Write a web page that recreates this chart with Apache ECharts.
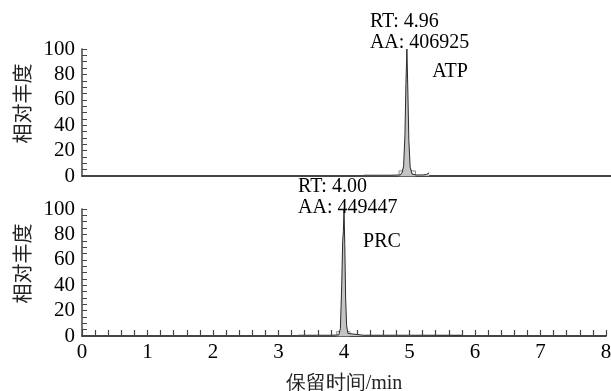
<!DOCTYPE html>
<html><head><meta charset="utf-8">
<script src="https://cdn.jsdelivr.net/npm/echarts@6/dist/echarts.min.js"></script>
<style>html,body{margin:0;padding:0;background:#fff}#c{width:611px;height:391px}</style>
</head><body><div id="c"></div>
<script>
// ATP chromatogram (time in min, relative abundance %)
const atpTime = [4.30, 4.50, 4.70, 4.86, 4.89, 4.91, 4.93, 4.945, 4.96, 4.975, 4.99, 5.01, 5.04, 5.10, 5.20, 5.26, 5.30];
const atpAbund = [0.6, 0.6, 0.6, 0.8, 3, 8, 32, 72, 100, 66, 28, 7, 1.5, 0.8, 0.8, 1.2, 2.5];
// PRC chromatogram
const prcTime = [3.30, 3.60, 3.80, 3.92, 3.945, 3.965, 3.98, 3.99, 4.00, 4.012, 4.025, 4.04, 4.06, 4.09, 4.30, 5.00, 5.80];
const prcAbund = [0.6, 0.6, 0.6, 0.8, 6, 40, 75, 82, 100, 72, 30, 8, 2, 0.8, 0.6, 0.6, 0.6];
const yTicks = [0, 20, 40, 60, 80, 100];
const xTicks = [0, 1, 2, 3, 4, 5, 6, 7, 8];
const atpNote = {rt: '4.96', aa: '406925', name: 'ATP', namePos: [5.62, 82]};
const prcNote = {rt: '4.00', aa: '449447', name: 'PRC', namePos: [4.58, 74]};

const serif = '"Liberation Serif","Times New Roman",serif';
const cjk = '"Noto Sans CJK SC",sans-serif';
const axisColor = '#444';

function yAxis(gi) {
  return {
    gridIndex: gi, type: 'value', min: 0, max: 100, interval: 20,
    name: '相对丰度', nameLocation: 'middle', nameGap: 47,
    nameTextStyle: {fontFamily: cjk, fontSize: 20, color: '#222', padding: [0, 0, 0, 18]},
    axisLine: {show: true, lineStyle: {color: axisColor, width: 1.5}},
    axisTick: {show: true, inside: true, length: 5, lineStyle: {color: axisColor}},
    minorTick: {show: true, splitNumber: 4, length: 5, lineStyle: {color: axisColor}},
    axisLabel: {fontFamily: serif, fontSize: 21, color: '#000', margin: 7,
      formatter: v => yTicks.includes(v) ? String(v) : ''},
    splitLine: {show: false}
  };
}
function series(gi, t, a, note, boxes, labelOffset) {
  return {
    type: 'line', xAxisIndex: gi, yAxisIndex: gi,
    data: t.map((x, i) => [x, a[i]]),
    symbol: 'none', smooth: false,
    lineStyle: {color: '#2a2a2a', width: 1},
    areaStyle: {color: '#c4c4c4', opacity: 1},
    markPoint: {
      symbol: 'circle', symbolSize: 0, silent: true,
      data: [
        {coord: [parseFloat(note.rt), 100],
         label: {show: true, position: labelOffset, align: 'left', verticalAlign: 'top',
           formatter: 'RT: ' + note.rt + '\nAA: ' + note.aa,
           fontFamily: serif, fontSize: 20, lineHeight: 21, color: '#000'}},
        {coord: note.namePos,
         label: {show: true, position: 'inside', formatter: note.name,
           fontFamily: serif, fontSize: 20, color: '#000'}}
      ]
    },
    markArea: {
      silent: true,
      itemStyle: {color: 'rgba(0,0,0,0)', borderColor: '#888', borderWidth: 1},
      data: boxes
    }
  };
}

const chart = echarts.init(document.getElementById('c'));
chart.setOption({
  animation: false,
  grid: [
    {left: 82, top: 49, height: 127, right: 0, outerBoundsMode: 'none', containLabel: false},
    {left: 82, top: 209, height: 127, right: 5, outerBoundsMode: 'none', containLabel: false}
  ],
  xAxis: [
    {gridIndex: 0, type: 'value', min: 0, max: 8.076,
     axisLine: {show: true, onZero: false, lineStyle: {color: axisColor, width: 1.8}},
     axisTick: {show: false}, axisLabel: {show: false}, splitLine: {show: false}},
    {gridIndex: 1, type: 'value', min: 0, max: 8, interval: 1,
     name: '保留时间/min', nameLocation: 'middle', nameGap: 38,
     nameTextStyle: {fontFamily: serif, fontSize: 20, color: '#222'},
     axisLine: {show: true, onZero: false, lineStyle: {color: axisColor, width: 1.8}},
     axisTick: {show: true, inside: true, length: 6, lineStyle: {color: axisColor, width: 1.2}},
     minorTick: {show: true, splitNumber: 5, length: 6, lineStyle: {color: axisColor, width: 1.2}},
     axisLabel: {fontFamily: serif, fontSize: 21, color: '#000', margin: 6,
       formatter: v => xTicks.includes(v) ? String(v) : ''},
     splitLine: {show: false}}
  ],
  yAxis: [yAxis(0), yAxis(1)],
  series: [
    series(0, atpTime, atpAbund, atpNote,
      [[{coord: [4.84, 0]}, {coord: [4.96, 4]}], [{coord: [4.96, 0]}, {coord: [5.09, 4]}]], [-37, -38]),
    series(1, prcTime, prcAbund, prcNote,
      [[{coord: [3.89, 0]}, {coord: [3.99, 3.5]}], [{coord: [3.99, 0]}, {coord: [4.09, 3.5]}]], [-46, -33])
  ]
});
</script></body></html>
